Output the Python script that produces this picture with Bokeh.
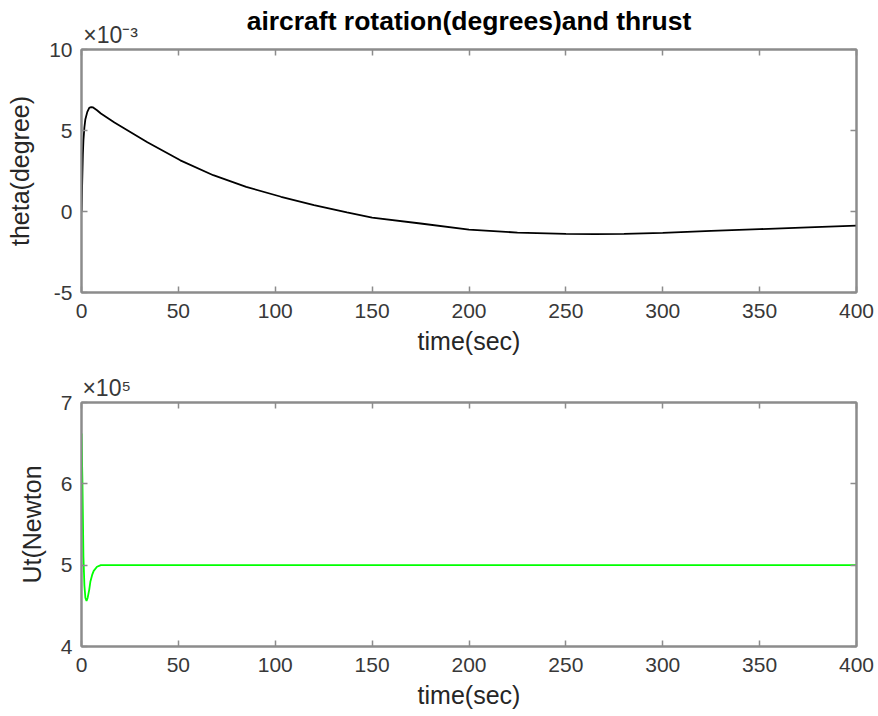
from bokeh.plotting import figure
from bokeh.layouts import column
from bokeh.models import Range1d, FixedTicker, LinearAxis
from bokeh.embed import file_html
from bokeh.resources import INLINE

# ---- data ----
time_theta = [0, 0.3, 0.7, 1, 1.5, 2, 3, 4, 5, 6, 8, 10, 17, 34, 51, 68, 85, 103,
              120, 137, 150, 175, 200, 225, 250, 265, 280, 300, 325, 350, 375, 400]
theta_e3 = [0, 1.5, 3.5, 4.4, 5.2, 5.7, 6.15, 6.4, 6.45, 6.42, 6.25, 6.05, 5.5, 4.28,
            3.16, 2.24, 1.52, 0.91, 0.4, -0.05, -0.38, -0.74, -1.12, -1.3, -1.38,
            -1.4, -1.38, -1.32, -1.2, -1.09, -0.98, -0.87]

time_thrust = [0, 0.5, 1, 1.5, 2, 2.6, 3.2, 4, 4.6, 5.5, 6.3, 8, 10, 50, 100, 150,
               200, 250, 300, 350, 400]
thrust_e5 = [6.62, 6.0, 5.1, 4.75, 4.6, 4.56, 4.6, 4.7, 4.8, 4.88, 4.93, 4.98, 5.0,
             5.0, 5.0, 5.0, 5.0, 5.0, 5.0, 5.0, 5.0]

x_ticks = [0, 50, 100, 150, 200, 250, 300, 350, 400]
theta_ticks = [-5, 0, 5, 10]
thrust_ticks = [4, 5, 6, 7]

FONT = "Liberation Sans"
AXC = "#8c8c8c"
TXT = "#383838"
LBL = "#262626"


def make(y_range, yticks, xlabel, ylabel, exp_text, exp_pos, top_border, bottom_border,
         frame_h, title=None):
    p = figure(frame_width=775, frame_height=frame_h, output_backend="svg",
               toolbar_location=None, x_range=Range1d(0, 400), y_range=y_range,
               min_border_left=81, min_border_right=22,
               min_border_top=top_border, min_border_bottom=bottom_border,
               background_fill_color="white", border_fill_color="white")
    p.xgrid.visible = False
    p.ygrid.visible = False
    p.outline_line_color = AXC
    p.outline_line_width = 2
    p.xaxis.ticker = FixedTicker(ticks=x_ticks)
    p.yaxis.ticker = FixedTicker(ticks=yticks)
    p.yaxis.major_label_overrides = {t: ("%d" % t) for t in yticks}
    for ax in (p.xaxis[0], p.yaxis[0]):
        ax.axis_line_color = AXC
        ax.axis_line_width = 2
        ax.major_tick_line_color = AXC
        ax.major_tick_line_width = 1.5
        ax.major_tick_in = 6
        ax.major_tick_out = 0
        ax.minor_tick_line_color = None
        ax.major_label_text_font = FONT
        ax.major_label_text_font_size = "21px"
        ax.major_label_text_color = TXT
        ax.axis_label_text_font = FONT
        ax.axis_label_text_font_size = "25px"
        ax.axis_label_text_font_style = "normal"
        ax.axis_label_text_color = LBL
    p.xaxis.major_label_standoff = 11
    p.xaxis.axis_label_standoff = 6
    p.yaxis.major_label_standoff = 9
    p.yaxis.axis_label_standoff = 12
    p.xaxis.axis_label = xlabel
    p.yaxis.axis_label = ylabel

    # box ticks on top and right (MATLAB "box on")
    for loc, tk in (("above", x_ticks), ("right", yticks)):
        ax = LinearAxis(ticker=FixedTicker(ticks=tk), major_label_text_font_size="0px",
                        major_label_text_color=None,
                        major_label_standoff=0, major_tick_in=6, major_tick_out=0,
                        major_tick_line_color=AXC, major_tick_line_width=1.5,
                        minor_tick_line_color=None, axis_line_color=AXC, axis_line_width=2)
        p.add_layout(ax, loc)

    # exponent multiplier (and title) as an extra top axis
    ex = LinearAxis(ticker=FixedTicker(ticks=[exp_pos]),
                    major_label_overrides={exp_pos: exp_text},
                    major_tick_in=0, major_tick_out=0, major_tick_line_color=None,
                    minor_tick_line_color=None, axis_line_color=None,
                    major_label_standoff=2, major_label_text_font=FONT,
                    major_label_text_font_size="23px", major_label_text_color=TXT)
    if title is not None:
        ex.axis_label = title
        ex.axis_label_text_font = FONT
        ex.axis_label_text_font_size = "26.5px"
        ex.axis_label_text_font_style = "bold"
        ex.axis_label_text_color = "black"
        ex.axis_label_standoff = -17
    p.add_layout(ex, "above")
    return p


p1 = make(Range1d(-5, 10), theta_ticks, "time(sec)", "theta(degree)",
          "\u00d710\u207b\u00b3", 15, 49, 71, 243,
          title="aircraft rotation(degrees)and thrust")
p1.line(time_theta, theta_e3, line_color="black", line_width=1.8)

p2 = make(Range1d(4, 7), thrust_ticks, "time(sec)", "Ut(Newton",
          "\u00d710\u2075", 13, 39, 71, 244)
p2.line(time_thrust, thrust_e5, line_color="#00ff00", line_width=1.8)

layout = column(p1, p2, spacing=0)
open("out.html", "w").write(file_html(layout, INLINE))
